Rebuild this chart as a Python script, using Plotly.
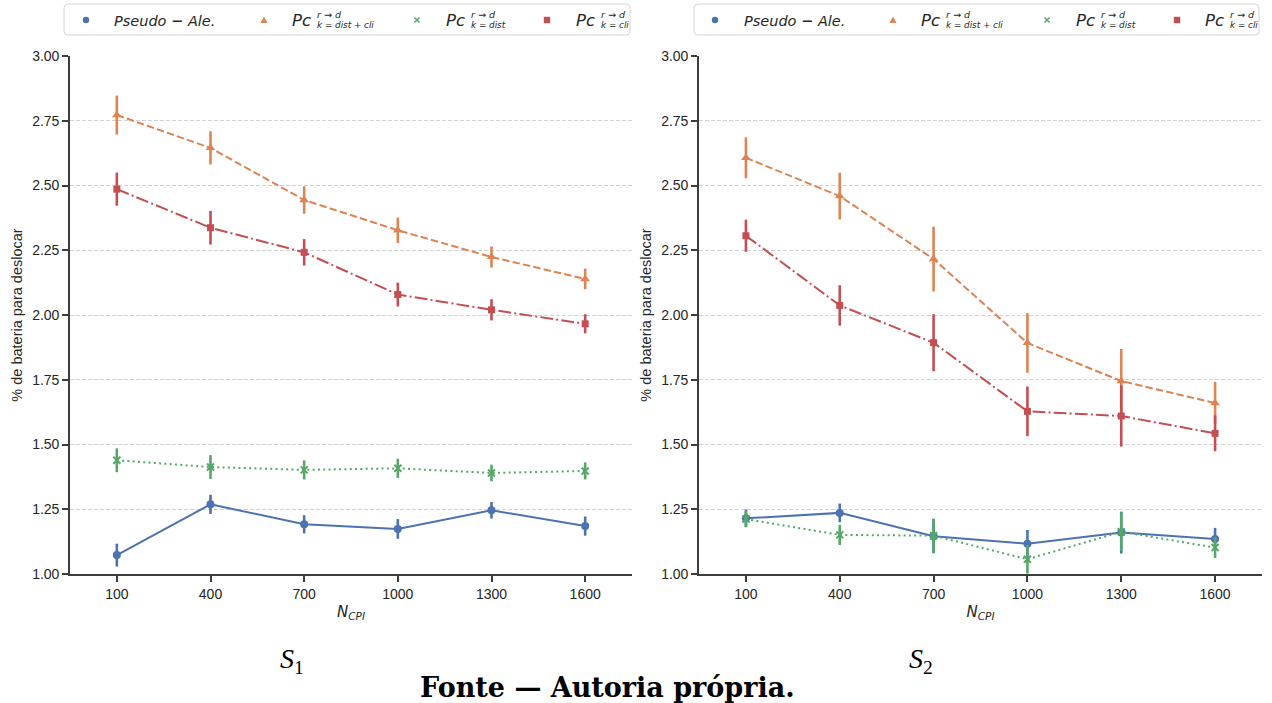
import plotly.graph_objects as go

W, H = 1272, 703

# ---------------- data ----------------
n_cpi = ['100', '400', '700', '1000', '1300', '1600']

pseudo_s1 = [1.073, 1.269, 1.192, 1.174, 1.246, 1.185]
pseudo_s1_err = [0.044, 0.037, 0.035, 0.038, 0.032, 0.037]
distcli_s1 = [2.772, 2.645, 2.444, 2.327, 2.224, 2.139]
distcli_s1_err = [0.075, 0.064, 0.053, 0.049, 0.041, 0.040]
dist_s1 = [1.439, 1.413, 1.402, 1.408, 1.390, 1.398]
dist_s1_err = [0.046, 0.046, 0.037, 0.037, 0.032, 0.033]
cli_s1 = [2.486, 2.337, 2.242, 2.079, 2.020, 1.966]
cli_s1_err = [0.064, 0.065, 0.051, 0.046, 0.041, 0.037]

pseudo_s2 = [1.215, 1.236, 1.146, 1.117, 1.160, 1.135]
pseudo_s2_err = [0.034, 0.036, 0.066, 0.053, 0.081, 0.043]
distcli_s2 = [2.607, 2.459, 2.216, 1.892, 1.745, 1.660]
distcli_s2_err = [0.079, 0.090, 0.125, 0.115, 0.124, 0.082]
dist_s2 = [1.212, 1.151, 1.148, 1.057, 1.163, 1.102]
dist_s2_err = [0.031, 0.039, 0.066, 0.055, 0.075, 0.040]
cli_s2 = [2.306, 2.037, 1.893, 1.628, 1.610, 1.543]
cli_s2_err = [0.062, 0.078, 0.110, 0.096, 0.118, 0.069]

y_ticks = [1.00, 1.25, 1.50, 1.75, 2.00, 2.25, 2.50, 2.75, 3.00]
y_title = '% de bateria para deslocar'
panel_labels = ['S', 'S']
panel_idx = ['1', '2']
caption = 'Fonte — Autoria própria.'

BLUE, ORANGE, GREEN, RED = '#4C72B0', '#DD8452', '#55A868', '#C44E52'
SPINE = '#3d3d3d'
TXT = '#262626'
SANS = 'Liberation Sans, Arial, sans-serif'
MATH = 'DejaVu Sans, sans-serif'
SERIF = 'DejaVu Serif, serif'

styles = [
    ('Pseudo', BLUE, 'solid', 'circle', 8),
    ('distcli', ORANGE, '7.4px,3.2px', 'triangle-up', 8.5),
    ('dist', GREEN, '2px,3.3px', 'x-thin', 7),
    ('cli', RED, '12.8px,3.2px,2px,3.2px', 'square', 7),
]

panels = [
    ([pseudo_s1, distcli_s1, dist_s1, cli_s1],
     [pseudo_s1_err, distcli_s1_err, dist_s1_err, cli_s1_err]),
    ([pseudo_s2, distcli_s2, dist_s2, cli_s2],
     [pseudo_s2_err, distcli_s2_err, dist_s2_err, cli_s2_err]),
]

fig = go.Figure()
for p, (vals, errs) in enumerate(panels):
    xa = 'x' if p == 0 else 'x2'
    ya = 'y' if p == 0 else 'y2'
    for (name, col, dash, sym, ms), v, e in zip(styles, vals, errs):
        marker = dict(color=col, size=ms, symbol=sym)
        if sym == 'x-thin':
            marker['line'] = dict(color=col, width=2)
        fig.add_trace(go.Scatter(
            x=n_cpi, y=v, xaxis=xa, yaxis=ya, mode='lines+markers',
            line=dict(color=col, width=2, dash=dash),
            marker=marker,
            error_y=dict(type='data', array=e, visible=True, color=col,
                         thickness=2.6, width=0),
            showlegend=False, name=name))

def X(px):
    return px / W

def Y(py):
    return 1 - py / H

axis_common = dict(
    showline=True, linecolor=SPINE, linewidth=1.6, mirror=False,
    ticks='outside', ticklen=6, tickwidth=1.5, tickcolor=SPINE,
    tickfont=dict(family=SANS, size=14, color=TXT), zeroline=False,
    automargin=False,
)

xtitle = dict(text='<i>N</i><sub><i>CPI</i></sub>',
              font=dict(family=MATH, size=15, color=TXT), standoff=6)
ytitle = dict(text=y_title, font=dict(family=SANS, size=14.5, color=TXT), standoff=6)

ydom = [Y(574), Y(56)]
fig.update_layout(
    width=W, height=H, margin=dict(l=0, r=0, t=0, b=0, autoexpand=False),
    paper_bgcolor='white', plot_bgcolor='white', showlegend=False,
    xaxis=dict(domain=[X(70), X(632)], anchor='y', type='category',
               range=[-0.5, 5.5], showgrid=False, title=xtitle, **axis_common),
    xaxis2=dict(domain=[X(699), X(1262)], anchor='y2', type='category',
                range=[-0.5, 5.5], showgrid=False, title=xtitle, **axis_common),
    yaxis=dict(domain=ydom, anchor='x', range=[1.0, 3.0], tickvals=y_ticks,
               ticktext=['%.2f' % t for t in y_ticks],
               showgrid=True, gridcolor='#d2d2d2', gridwidth=1, griddash='4px,2px',
               title=ytitle, **axis_common),
    yaxis2=dict(domain=ydom, anchor='x2', range=[1.0, 3.0], tickvals=y_ticks,
                ticktext=['%.2f' % t for t in y_ticks],
                showgrid=True, gridcolor='#d2d2d2', gridwidth=1, griddash='4px,2px',
                title=ytitle, **axis_common),
)

shapes = []
annotations = []

def rounded_box(x0, y0, x1, y1, r=4):
    path = (f'M {X(x0 + r)},{Y(y0)} L {X(x1 - r)},{Y(y0)} '
            f'Q {X(x1)},{Y(y0)} {X(x1)},{Y(y0 + r)} L {X(x1)},{Y(y1 - r)} '
            f'Q {X(x1)},{Y(y1)} {X(x1 - r)},{Y(y1)} L {X(x0 + r)},{Y(y1)} '
            f'Q {X(x0)},{Y(y1)} {X(x0)},{Y(y1 - r)} L {X(x0)},{Y(y0 + r)} '
            f'Q {X(x0)},{Y(y0)} {X(x0 + r)},{Y(y0)} Z')
    return dict(type='path', xref='paper', yref='paper', path=path,
                line=dict(color='#d4d4d4', width=1), fillcolor='white', layer='above')

legend_specs = [
    dict(x0=64, x1=630, dot=86, t1=112, tri=264, pc1=291, xm=417, pc2=445, sq=547, pc3=575),
    dict(x0=694, x1=1259, dot=715, t1=742, tri=893, pc1=920, xm=1047, pc2=1075, sq=1177, pc3=1204),
]
subs = ['k = dist + cli', 'k = dist', 'k = cli']
cy = 20
for L in legend_specs:
    shapes.append(rounded_box(L['x0'], 4, L['x1'], 35))
    r = 3.2
    shapes.append(dict(type='circle', xref='paper', yref='paper',
                       x0=X(L['dot'] - r), x1=X(L['dot'] + r), y0=Y(cy + r), y1=Y(cy - r),
                       fillcolor=BLUE, line=dict(width=0), layer='above'))
    t = L['tri']
    shapes.append(dict(type='path', xref='paper', yref='paper',
                       path=f'M {X(t-3.5)},{Y(cy+3)} L {X(t+3.5)},{Y(cy+3)} L {X(t)},{Y(cy-3.5)} Z',
                       fillcolor=ORANGE, line=dict(width=0), layer='above'))
    xm = L['xm']
    for a, b in [((-2.6, -2.6), (2.6, 2.6)), ((-2.6, 2.6), (2.6, -2.6))]:
        shapes.append(dict(type='line', xref='paper', yref='paper',
                           x0=X(xm + a[0]), y0=Y(cy + a[1]), x1=X(xm + b[0]), y1=Y(cy + b[1]),
                           line=dict(color=GREEN, width=1.4), layer='above'))
    s = L['sq']
    shapes.append(dict(type='rect', xref='paper', yref='paper',
                       x0=X(s - 3.2), x1=X(s + 3.2), y0=Y(cy + 3.2), y1=Y(cy - 3.2),
                       fillcolor=RED, line=dict(width=0), layer='above'))
    annotations.append(dict(xref='paper', yref='paper', x=X(L['t1']), y=Y(cy + 1),
                            xanchor='left', yanchor='middle', showarrow=False,
                            text='<i>Pseudo</i> <b>−</b> <i>Ale.</i>',
                            font=dict(family=MATH, size=14.5, color=TXT)))
    for key, sub in zip(['pc1', 'pc2', 'pc3'], subs):
        px0 = L[key]
        annotations.append(dict(xref='paper', yref='paper', x=X(px0 - 1), y=Y(cy + 1),
                                xanchor='left', yanchor='middle', showarrow=False,
                                text='<i>Pc</i>', font=dict(family=MATH, size=16.5, color=TXT)))
        annotations.append(dict(xref='paper', yref='paper', x=X(px0 + 24), y=Y(14.5),
                                xanchor='left', yanchor='middle', showarrow=False,
                                text='<i>r → d</i>', font=dict(family=MATH, size=9.5, color=TXT)))
        annotations.append(dict(xref='paper', yref='paper', x=X(px0 + 24), y=Y(25),
                                xanchor='left', yanchor='middle', showarrow=False,
                                text='<i>' + sub + '</i>', font=dict(family=MATH, size=8.8, color=TXT)))

for lbl, idx, cx in zip(panel_labels, panel_idx, [292, 921]):
    annotations.append(dict(xref='paper', yref='paper', x=X(cx), y=Y(660),
                            xanchor='center', yanchor='middle', showarrow=False,
                            text='<i>' + lbl + '</i><sub>' + idx + '</sub>',
                            font=dict(family='Liberation Serif, serif', size=28, color='#000')))
annotations.append(dict(xref='paper', yref='paper', x=X(607), y=Y(687),
                        xanchor='center', yanchor='middle', showarrow=False,
                        text='<b>' + caption + '</b>',
                        font=dict(family=SERIF, size=27, color='#000')))

fig.update_layout(shapes=shapes, annotations=annotations)
fig.write_html('out.html')
